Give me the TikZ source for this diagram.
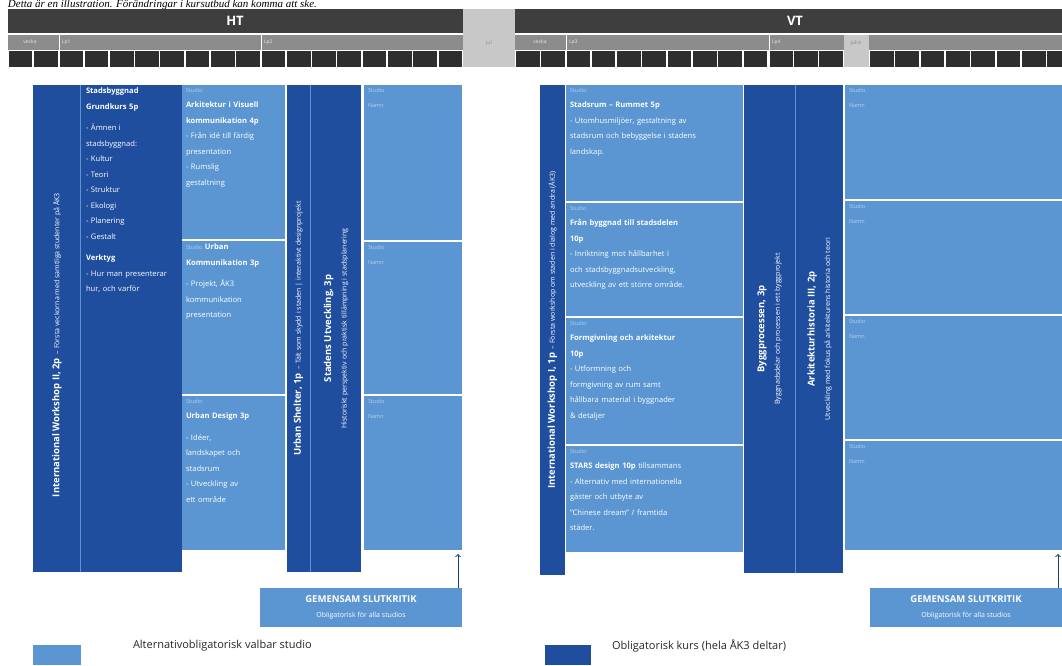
\documentclass[tikz,border=0pt]{standalone}
\usepackage{fontspec}
\setmainfont{Open Sans}
\newfontfamily\notefont{Liberation Serif}
\usepackage{xcolor}
\definecolor{KursBlue}{HTML}{1F4E9E}
\definecolor{StudioBlue}{HTML}{5B96D2}
\definecolor{TagBlue}{HTML}{B4D0EE}
\definecolor{HeadGray}{HTML}{3E3E3E}
\definecolor{WeekGray}{HTML}{8C8C8C}
\definecolor{CellGray}{HTML}{2E2E2E}
\definecolor{BreakGray}{HTML}{C8C8C8}
\definecolor{ArrowBlue}{HTML}{1D3F78}
\usetikzlibrary{positioning}

\begin{document}
\begin{tikzpicture}[x=1pt, y=-1pt,
    font=\fontsize{7.6}{15.5}\selectfont,
    inner sep=0pt,
    outer sep=0pt,
    kurs/.style={shape=rectangle, fill=KursBlue},
    studio/.style={shape=rectangle, fill=StudioBlue},
    boxtext/.style={text=white, align=left},
    coltitle/.style={text=white, rotate=90, align=center},
    weeklabel/.style={text=white!80!WeekGray, font=\fontsize{5}{6}\selectfont}]

    \path [use as bounding box] (0,0) rectangle (1062,665);

    % note on top
    \node[name=note,
      anchor=base west,
      font=\notefont\itshape\fontsize{11}{11}\selectfont] at (8,7.6)
      {Detta är en illustration. Förändringar i kursutbud kan komma att ske.};

    % header HT / VT
    \fill[HeadGray] (8,9) rectangle (463,33);
    \fill[HeadGray] (515,9) rectangle (1062,33);
    \fill[BreakGray] (463,9) rectangle (515,67);
    \fill[WeekGray] (8,35) rectangle (463,50);
    \fill[WeekGray] (515,35) rectangle (1062,50);
    \foreach \w in {0,...,17}
      \fill[CellGray] ({8+\w*25.28+0.8},51) rectangle ({8+(\w+1)*25.28-0.8},67);
    \foreach \w in {0,...,21}
      \fill[CellGray] ({515+\w*25.3+0.8},51) rectangle ({min(515+(\w+1)*25.3-0.8,1062)},67);
    \fill[BreakGray] (844,35) rectangle (869,67);
    \foreach \x in {59,261,566,769}
      \draw[white, line width=1pt] (\x,35) -- (\x,67);

    \node[name=ht, text=white, font=\bfseries\fontsize{13}{13}\selectfont] at (235,21) {HT};
    \node[name=vt, text=white, font=\bfseries\fontsize{13}{13}\selectfont] at (795,21) {VT};

    \node[name=wkht, weeklabel] at (30,42) {vecka};
    \node[name=lpone, weeklabel, anchor=west] at (62,42) {Lp1};
    \node[name=lptwo, weeklabel, anchor=west] at (264,42) {Lp2};
    \node[name=jul, weeklabel, text=WeekGray] at (489,43) {jul};
    \node[name=wkvt, weeklabel] at (540,42) {vecka};
    \node[name=lpthree, weeklabel, anchor=west] at (569,42) {Lp3};
    \node[name=lpfour, weeklabel, anchor=west] at (772,42) {Lp4};
    \node[name=pask, weeklabel, text=WeekGray] at (856,43) {påsk};

    % HT courses
    \node[name=wsht, kurs,
      minimum width=47pt,
      minimum height=487pt,
      anchor=north west] at (33,85) {};

    \node[name=grundkurs, kurs,
      minimum width=101pt,
      minimum height=487pt,
      right=1pt of wsht.north east,
      anchor=north west] {};

    \node[name=sht1, studio,
      minimum width=103pt,
      minimum height=154pt,
      right=0pt of grundkurs.north east,
      anchor=north west] {};

    \node[name=sht2, studio,
      minimum width=103pt,
      minimum height=153pt,
      below=2pt of sht1] {};

    \node[name=sht3, studio,
      minimum width=103pt,
      minimum height=154pt,
      below=2pt of sht2] {};

    \node[name=urbsh, kurs,
      minimum width=23pt,
      minimum height=487pt,
      right=2pt of sht1.north east,
      anchor=north west] {};

    \node[name=stadut, kurs,
      minimum width=50pt,
      minimum height=487pt,
      right=1pt of urbsh.north east,
      anchor=north west] {};

    \node[name=fht1, studio,
      minimum width=98pt,
      minimum height=155pt,
      right=3pt of stadut.north east,
      anchor=north west] {};

    \node[name=fht2, studio,
      minimum width=98pt,
      minimum height=152pt,
      below=2pt of fht1] {};

    \node[name=fht3, studio,
      minimum width=98pt,
      minimum height=154pt,
      below=2pt of fht2] {};

    \draw[StudioBlue, line width=1pt] ([xshift=0.5pt]wsht.north east) -- ([xshift=0.5pt]wsht.south east);
    \draw[StudioBlue, line width=1pt] ([xshift=0.5pt]urbsh.north east) -- ([xshift=0.5pt]urbsh.south east);

    % HT texts
    \node[name=wshtlabel, coltitle] at (57,345)
      {{\bfseries\fontsize{9.5}{11}\selectfont International Workshop II, 2p}
       {\fontsize{7}{8}\selectfont\ -- Första veckorna med samtliga studenter på ÅK3}};

    \node[name=grundtext, boxtext,
      text width=95pt,
      below right=3pt and 5pt of grundkurs.north west]
      {\textbf{Stadsbyggnad}\\ \textbf{Grundkurs 5p}\\[6pt]
       - Ämnen i\\ stadsbyggnad:\\ - Kultur\\ - Teori\\ - Struktur\\ - Ekologi\\
       - Planering\\ - Gestalt\\[6pt]
       \textbf{Verktyg}\\ - Hur man presenterar\\ hur, och varför};

    \node[name=sht1text, boxtext,
      text width=98pt,
      below right=3pt and 4pt of sht1.north west]
      {{\fontsize{5.5}{6}\selectfont\color{TagBlue}Studio}\\ \textbf{Arkitektur i Visuell}\\ \textbf{kommunikation 4p}\\
       - Från idé till färdig\\ presentation\\ - Rumslig\\ gestaltning};

    \node[name=sht2text, boxtext,
      text width=98pt,
      below right=3pt and 4pt of sht2.north west]
      {{\fontsize{5.5}{6}\selectfont\color{TagBlue}Studio} \textbf{Urban}\\ \textbf{Kommunikation 3p}\\[6pt]
       - Projekt, ÅK3\\ kommunikation\\ presentation};

    \node[name=sht3text, boxtext,
      text width=98pt,
      below right=3pt and 4pt of sht3.north west]
      {{\fontsize{5.5}{6}\selectfont\color{TagBlue}Studio}\\ \textbf{Urban Design 3p}\\[6pt]
       - Idéer,\\ landskapet och\\ stadsrum\\ - Utveckling av\\ ett område};

    \node[name=urbshlabel, coltitle] at (urbsh.center)
      {{\bfseries\fontsize{9.5}{11}\selectfont Urban Shelter, 1p}
       {\fontsize{7}{8}\selectfont\ -- Tält som skydd i staden | interaktivt designprojekt}};

    \node[name=stadutlabel, coltitle] at (stadut.center)
      {{\bfseries\fontsize{9.5}{12}\selectfont Stadens Utveckling, 3p}\\
       {\fontsize{7}{8}\selectfont Historiskt perspektiv och praktisk tillämpning i stadsplanering}};

    \foreach \b in {fht1,fht2,fht3}
      \node[name=\b text, boxtext,
        text width=90pt,
        below right=3pt and 4pt of \b.north west]
        {{\fontsize{5.5}{6}\selectfont\color{TagBlue}Studio}\\ {\fontsize{5.5}{6}\selectfont\color{TagBlue}Namn}};

    % VT courses
    \node[name=wsvt, kurs,
      minimum width=25pt,
      minimum height=490pt,
      anchor=north west] at (540,85) {};

    \node[name=svt1, studio,
      minimum width=177pt,
      minimum height=116pt,
      right=1pt of wsvt.north east,
      anchor=north west] {};

    \node[name=svt2, studio,
      minimum width=177pt,
      minimum height=113pt,
      below=2pt of svt1] {};

    \node[name=svt3, studio,
      minimum width=177pt,
      minimum height=126pt,
      below=2pt of svt2] {};

    \node[name=svt4, studio,
      minimum width=177pt,
      minimum height=106pt,
      below=2pt of svt3] {};

    \node[name=bygg, kurs,
      minimum width=51pt,
      minimum height=488pt,
      right=1pt of svt1.north east,
      anchor=north west] {};

    \node[name=arkhist, kurs,
      minimum width=47pt,
      minimum height=488pt,
      right=1pt of bygg.north east,
      anchor=north west] {};

    \node[name=evt1, studio,
      minimum width=217pt,
      minimum height=114pt,
      right=2pt of arkhist.north east,
      anchor=north west] {};

    \node[name=evt2, studio,
      minimum width=217pt,
      minimum height=113pt,
      below=2pt of evt1] {};

    \node[name=evt3, studio,
      minimum width=217pt,
      minimum height=123pt,
      below=2pt of evt2] {};

    \node[name=evt4, studio,
      minimum width=217pt,
      minimum height=109pt,
      below=2pt of evt3] {};

    \draw[StudioBlue, line width=1pt] ([xshift=0.5pt]bygg.north east) -- ([xshift=0.5pt]bygg.south east);

    % VT texts
    \node[name=wsvtlabel, coltitle] at (wsvt.center)
      {{\bfseries\fontsize{9.5}{11}\selectfont International Workshop I, 1p}
       {\fontsize{7}{8}\selectfont\ -- Första workshop om staden i dialog med andra (ÅK3)}};

    \node[name=svt1text, boxtext,
      text width=172pt,
      below right=3pt and 4pt of svt1.north west]
      {{\fontsize{5.5}{6}\selectfont\color{TagBlue}Studio}\\ \textbf{Stadsrum -- Rummet 5p}\\
       - Utomhusmiljöer, gestaltning av\\ stadsrum och bebyggelse i stadens\\ landskap.};

    \node[name=svt2text, boxtext,
      text width=172pt,
      below right=3pt and 4pt of svt2.north west]
      {{\fontsize{5.5}{6}\selectfont\color{TagBlue}Studio}\\ \textbf{Från byggnad till stadsdelen}\\ \textbf{10p}\\
       - Inriktning mot hållbarhet i\\ och stadsbyggnadsutveckling,\\ utveckling av ett större område.};

    \node[name=svt3text, boxtext,
      text width=172pt,
      below right=3pt and 4pt of svt3.north west]
      {{\fontsize{5.5}{6}\selectfont\color{TagBlue}Studio}\\ \textbf{Formgivning och arkitektur}\\ \textbf{10p}\\
       - Utformning och\\ formgivning av rum samt\\ hållbara material i byggnader\\ \& detaljer};

    \node[name=svt4text, boxtext,
      text width=172pt,
      below right=3pt and 4pt of svt4.north west]
      {{\fontsize{5.5}{6}\selectfont\color{TagBlue}Studio}\\ \textbf{STARS design 10p} tillsammans\\
       - Alternativ med internationella\\ gäster och utbyte av\\ ''Chinese dream'' / framtida\\ städer.};

    \node[name=bygglabel, coltitle] at (bygg.center)
      {{\bfseries\fontsize{9.5}{12}\selectfont Byggprocessen, 3p}\\
       {\fontsize{7}{8}\selectfont Byggnadsdelar och processen i ett byggprojekt}};

    \node[name=arkhistlabel, coltitle] at (arkhist.center)
      {{\bfseries\fontsize{9.5}{12}\selectfont Arkitekturhistoria III, 2p}\\
       {\fontsize{7}{8}\selectfont Utveckling med fokus på arkitekturens historia och teori}};

    \foreach \b in {evt1,evt2,evt3,evt4}
      \node[name=\b text, boxtext,
        text width=90pt,
        below right=3pt and 4pt of \b.north west]
        {{\fontsize{5.5}{6}\selectfont\color{TagBlue}Studio}\\ {\fontsize{5.5}{6}\selectfont\color{TagBlue}Namn}};

    % final critique
    \node[name=slutht, studio,
      minimum width=202pt,
      minimum height=39pt,
      text=white,
      align=center,
      anchor=north west] at (260,588)
      {{\bfseries\fontsize{9.5}{12}\selectfont GEMENSAM SLUTKRITIK}\\[-1pt]
       {\fontsize{7}{8}\selectfont Obligatorisk för alla studios}};

    \node[name=slutvt, studio,
      minimum width=192pt,
      minimum height=39pt,
      text=white,
      align=center,
      anchor=north west] at (870,588)
      {{\bfseries\fontsize{9.5}{12}\selectfont GEMENSAM SLUTKRITIK}\\[-1pt]
       {\fontsize{7}{8}\selectfont Obligatorisk för alla studios}};

    \path ([xshift=-4pt]slutht.north east) edge[->, ArrowBlue, line width=1pt, shorten >=4pt] ([xshift=-4pt]fht3.south east);
    \path ([xshift=-4pt]slutvt.north east) edge[->, ArrowBlue, line width=1pt, shorten >=4pt] ([xshift=-4pt]evt4.south east);

    % legend
    \node[name=keystudio, studio,
      minimum width=48pt,
      minimum height=20pt,
      anchor=north west] at (33,645) {};
    \node[name=keystudiotext,
      anchor=west,
      font=\fontsize{11}{12}\selectfont,
      text=black!85] at (133,646) {Alternativobligatorisk valbar studio};

    \node[name=keykurs, kurs,
      minimum width=46pt,
      minimum height=20pt,
      anchor=north west] at (545,645) {};
    \node[name=keykurstext,
      anchor=west,
      font=\fontsize{11}{12}\selectfont,
      text=black!85] at (612,646) {Obligatorisk kurs (hela ÅK3 deltar)};
  \end{tikzpicture}
\end{document}
